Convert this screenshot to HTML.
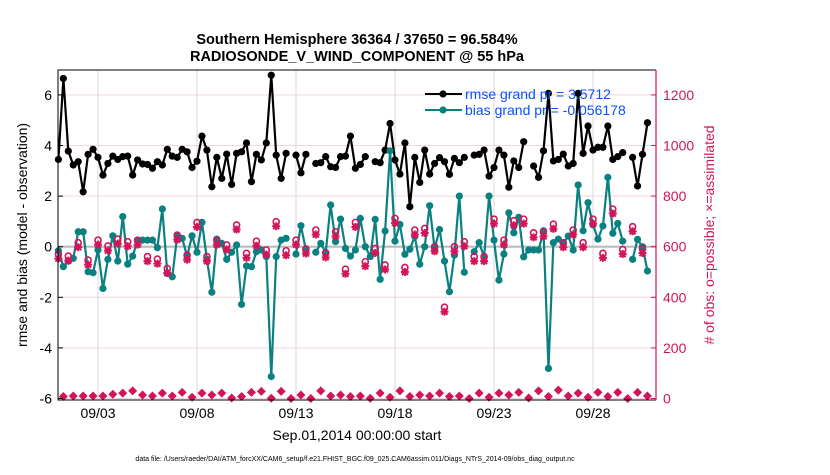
<!DOCTYPE html>
<html><head><meta charset="utf-8"><style>
body{margin:0;background:#fff;}
svg text{font-family:"Liberation Sans",Arial,sans-serif;}
</style></head><body>
<svg id="chart" width="830" height="470" viewBox="0 0 830 470" xmlns="http://www.w3.org/2000/svg">
<rect width="830" height="470" fill="#fff"/>
<g id="grid"></g>
<g id="series"></g>
<g id="axes"></g>
<text x="357" y="44" font-size="14.5" font-weight="bold" text-anchor="middle">Southern Hemisphere 36364 / 37650 = 96.584%</text>
<text x="357" y="61" font-size="14.5" font-weight="bold" text-anchor="middle">RADIOSONDE_V_WIND_COMPONENT @ 55 hPa</text>
<text x="357" y="440" font-size="14" text-anchor="middle">Sep.01,2014 00:00:00 start</text>
<text transform="translate(27,235) rotate(-90)" font-size="14" text-anchor="middle">rmse and bias (model - observation)</text>
<text transform="translate(714,235) rotate(-90)" font-size="14" fill="#d4145a" text-anchor="middle"># of obs: o=possible; ×=assimilated</text>
<text x="355" y="461" font-size="7" text-anchor="middle">data file: /Users/raeder/DAI/ATM_forcXX/CAM6_setup/f.e21.FHIST_BGC.f09_025.CAM6assim.011/Diags_NTrS_2014-09/obs_diag_output.nc</text>
<g id="legend">
<line x1="425" y1="94" x2="462" y2="94" stroke="#000" stroke-width="2"/>
<circle cx="443" cy="94" r="3.6" fill="#000"/>
<text x="465" y="99" font-size="14" fill="#0a50ff">rmse grand pr = 3.5712</text>
<line x1="425" y1="110" x2="462" y2="110" stroke="#0a8080" stroke-width="2"/>
<circle cx="443" cy="110" r="3.6" fill="#0a8080"/>
<text x="465" y="115" font-size="14" fill="#0a50ff">bias grand pr = -0.056178</text>
</g>
</svg>
<script>
const rmse=[3.45,6.65,3.78,3.23,3.36,2.17,3.65,3.85,3.53,2.83,3.29,3.58,3.45,3.56,3.58,2.83,3.43,3.27,3.25,3.1,3.36,3.23,3.85,3.58,3.53,3.85,3.75,3.13,3.38,4.37,3.82,2.37,3.53,2.7,3.66,2.46,3.69,3.75,4.1,2.57,3.65,
3.43,4.1,6.78,3.62,2.7,3.69,null,3.62,2.92,3.65,null,3.29,3.32,3.56,3.16,3.13,3.56,3.58,4.37,3.1,3.25,3.56,null,3.36,3.32,3.82,4.87,3.43,2.87,4.1,1.58,3.53,2.54,3.82,2.87,3.29,3.52,3.36,2.86,3.49,
3.32,3.53,null,3.62,3.65,3.82,2.79,3.13,3.82,3.62,2.35,3.39,3.13,4.15,null,3.19,2.74,3.79,6.06,3.39,3.45,3.66,3.19,3.29,6.06,3.69,4.77,3.82,3.93,3.93,4.77,3.45,3.56,3.72,null,3.53,2.4,3.65,4.9];
const bias=[-0.16,-0.79,-0.57,-0.46,0.59,0.59,-0.99,-1.03,-0.13,-1.65,-0.5,0.43,-0.57,1.19,-0.69,-0.37,0.26,0.26,0.26,0.26,-0.04,1.49,-1.05,-1.19,0.43,0.33,-0.37,0.43,-0.22,0.96,-0.5,-1.8,0.3,0.13,-0.5,-0.22,0.07,-2.28,-0.76,-0.79,-0.2,
-0.13,-0.39,-5.13,-0.39,0.26,0.33,null,-0.29,0.83,-0.13,null,-0.22,0.13,-0.24,1.65,0.2,1.09,-0.07,-0.37,-0.13,1.12,0,-0.39,1.08,-1.29,0.62,3.79,0.22,0.88,-0.3,-0.1,0.4,-0.69,0,1.62,-0.07,0.68,-0.57,-1.78,-0.33,2.0,
-1.01,null,-0.2,0.16,-0.4,2.0,0.26,-1.32,-0.29,1.34,0.55,1.16,-0.4,-0.13,-0.13,-0.13,0.63,-4.81,0.16,0.3,0.13,0.42,-0.13,2.44,0.63,1.74,0.86,0.3,0.82,2.74,0.53,0.92,0.22,null,-0.5,0.29,0,-0.96];
const possible=[571,563,616,547,626,603,630,620,626,561,551,514,646,567,696,561,626,607,686,574,622,
587,699,584,626,591,666,576,659,511,696,541,593,528,712,518,666,672,600,361,600,
620,561,561,709,626,703,709,655,659,689,616,666,616,709,574,749,589,679,593];
const assimilated=[553,545,598,529,608,585,612,602,608,543,533,496,628,549,678,543,608,589,668,556,604,
569,681,566,608,573,648,558,641,493,678,523,575,510,694,500,648,654,582,343,582,
602,543,543,691,608,685,691,637,641,671,598,648,598,691,556,731,571,661,575];
const rejected=[8,10,10,10,10,17,21,30,14,10,21,10,24,5,21,14,21,2,8,24,
28,1,28,0,14,0,30,10,14,8,10,1,21,5,30,8,14,10,21,8,
10,0,21,5,21,14,24,2,30,8,33,10,21,5,24,8,24,0,24,10];
const leftTicks=[-6,-4,-2,0,2,4,6];
const rightTicks=[0,200,400,600,800,1000,1200];
const dateTicks=[2,7,12,17,22,27];
const dateLabels=["09/03","09/08","09/13","09/18","09/23","09/28"];

const NS="http://www.w3.org/2000/svg";
const X0=58.4,PX_DAY=19.8,Y0=246.7,PX_UNIT=25.3,YB=398.5,PX_CNT=0.253;
const L=58,R=656,T=70,B=400;
function xS(t){return X0+t*PX_DAY;}
function xI(i){return xS(i*0.25);}
function yL(v){return Y0-v*PX_UNIT;}
function yR(c){return YB-c*PX_CNT;}
function mk(tag,attrs,parent){const e=document.createElementNS(NS,tag);for(const k in attrs)e.setAttribute(k,attrs[k]);parent.appendChild(e);return e;}
const grid=document.getElementById('grid'),ser=document.getElementById('series'),ax=document.getElementById('axes');
const PINK="#d4145a",TEAL="#0a8080";

leftTicks.forEach(v=>{
  if(v!==0){const g=mk('line',{x1:L,x2:R,y1:yL(v),y2:yL(v),stroke:'#f3d3de','stroke-width':1},grid);
  
  }
  const t=mk('text',{x:L-6,y:yL(v)+5,'font-size':14,'text-anchor':'end'},ax);t.textContent=v;
  
  
  mk('line',{x1:L,x2:L+5,y1:yL(v),y2:yL(v),stroke:'#000'},ax);
});
rightTicks.forEach(c=>{
  const t=mk('text',{x:R+7,y:yR(c)+5,'font-size':14,fill:PINK},ax);t.textContent=c;
  
  
  mk('line',{x1:R-5,x2:R,y1:yR(c),y2:yR(c),stroke:PINK},ax);
});
dateTicks.forEach((d,k)=>{
  const g=mk('line',{x1:xS(d),x2:xS(d),y1:T,y2:B,stroke:'#d8d8d8','stroke-width':1},grid);
  
  
  const t=mk('text',{x:xS(d),y:418,'font-size':14,'text-anchor':'middle'},ax);t.textContent=dateLabels[k];
  
  
});
const zl=mk('line',{x1:L,x2:R,y1:yL(0),y2:yL(0),stroke:'#bbb','stroke-width':2.2},grid);



function drawLine(arr,color,name){
  let d='',pen=false;
  arr.forEach((v,i)=>{if(v===null){pen=false;return;}d+=(pen?'L':'M')+xI(i).toFixed(1)+' '+yL(v).toFixed(1);pen=true;});
  const p=mk('path',{d:d,fill:'none',stroke:color,'stroke-width':2.2,'stroke-linejoin':'round'},ser);
  
  
  arr.forEach((v,i)=>{if(v===null)return;
    const c=mk('circle',{cx:xI(i),cy:yL(v),r:3.6,fill:color},ser);
    
    });
}
drawLine(rmse,'#000','rmse');
drawLine(bias,TEAL,'bias');

possible.forEach((c,k)=>{
  const x=xI(2*k),y=yR(c);
  const o=mk('circle',{cx:x,cy:y,r:3,fill:'none',stroke:PINK,'stroke-width':1.6},ser);
  
  
});
assimilated.forEach((c,k)=>{
  const x=xI(2*k),y=yR(c),s=4;
  const g=mk('path',{d:`M${x-s} ${y}L${x+s} ${y}M${x} ${y-s}L${x} ${y+s}M${x-3} ${y-3}L${x+3} ${y+3}M${x-3} ${y+3}L${x+3} ${y-3}`,stroke:PINK,'stroke-width':2},ser);
  
  
});
rejected.forEach((c,k)=>{
  const x=xI(2*k+1),y=yR(c),s=4.5;
  const g=mk('path',{d:`M${x} ${y-s}L${x+s} ${y}L${x} ${y+s}L${x-s} ${y}Z`,fill:PINK},ser);
  
  
});

const f1=mk('path',{d:`M${R} ${T}L${L} ${T}L${L} ${B}L${R} ${B}`,fill:'none',stroke:'#000','stroke-width':1},ax);


const f2=mk('line',{x1:R,x2:R,y1:T,y2:B,stroke:PINK,'stroke-width':1.2},ax);


</script>
</body></html>
